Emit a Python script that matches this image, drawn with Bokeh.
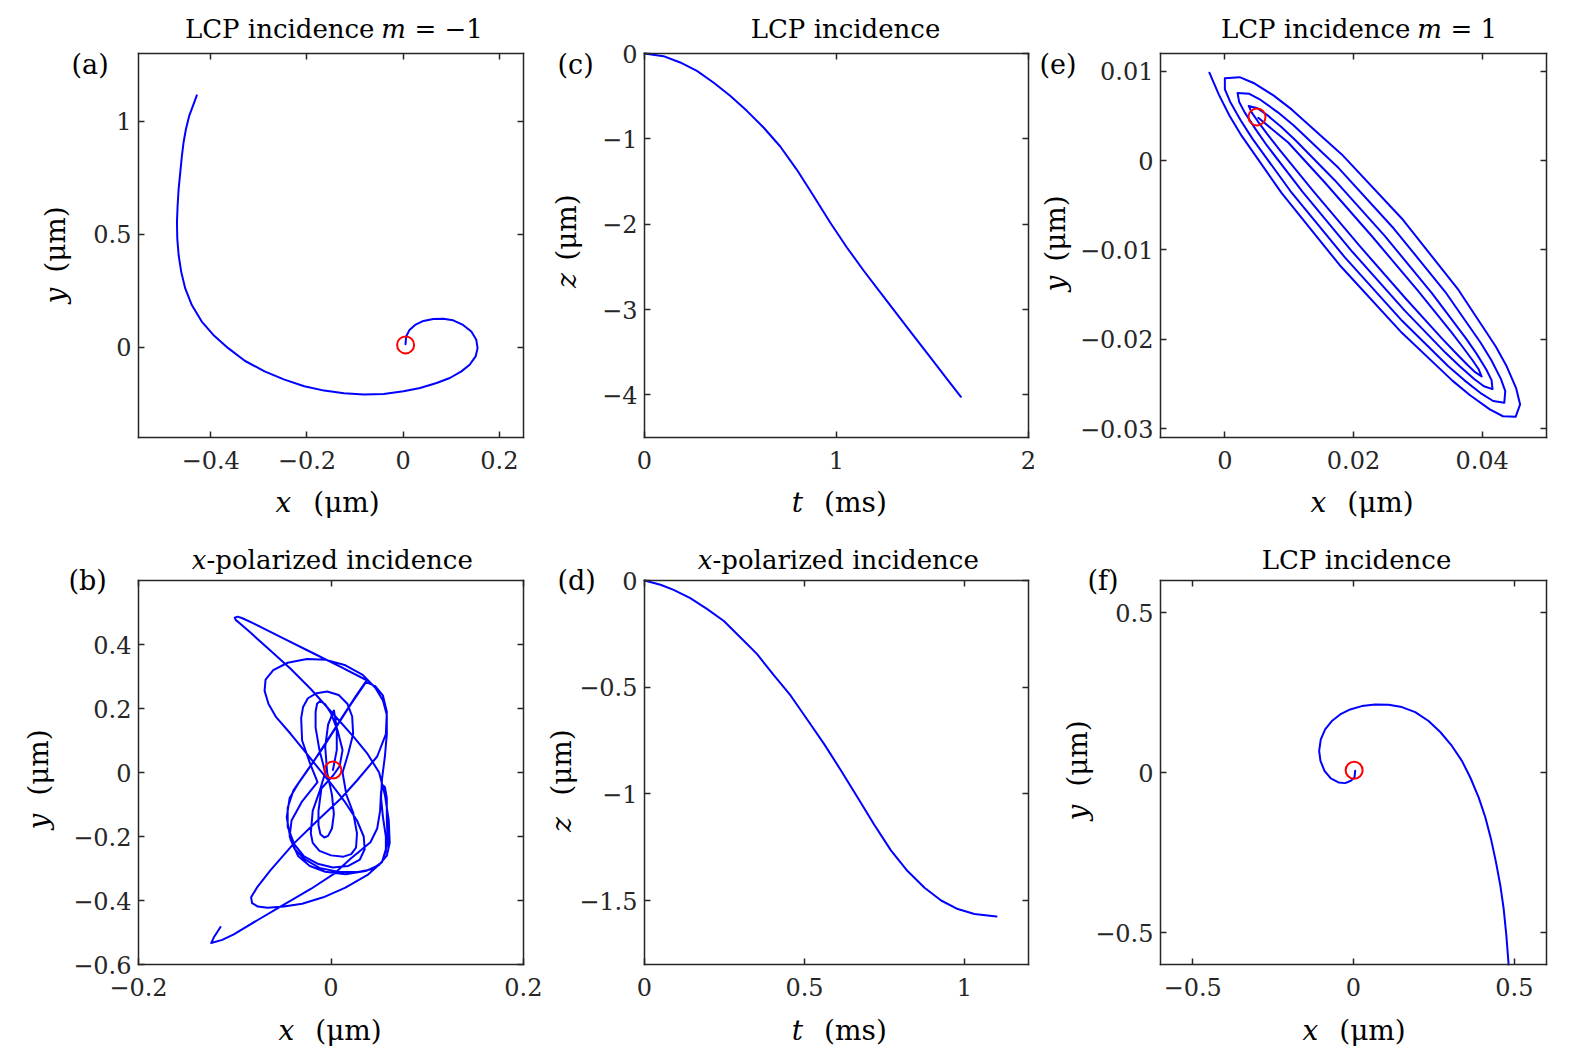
import math
from bokeh.plotting import figure
from bokeh.models import Range1d, FixedTicker, LinearAxis, Label, CustomJSTickFormatter
from bokeh.layouts import gridplot
from bokeh.embed import file_html
from bokeh.resources import INLINE

# ---------------- data ----------------
# (a) LCP incidence m=-1 : x-y trajectory (um)
a_x = [0.0048, 0.0062, 0.0131, 0.0247, 0.0419, 0.0625, 0.0832, 0.1038, 0.1244, 0.1416, 0.1519,
       0.1546, 0.1505, 0.1381, 0.1210, 0.0969, 0.0694, 0.0351, 0.0007, -0.0406, -0.0818, -0.1231,
       -0.1643, -0.2055, -0.2468, -0.2880, -0.3292, -0.3636, -0.3945, -0.4186, -0.4392, -0.4529,
       -0.4612, -0.4666, -0.4694, -0.4701, -0.4687, -0.4666, -0.4632, -0.4598, -0.4564, -0.4515,
       -0.4447, -0.4357, -0.4289]
a_y = [0.0132, 0.0470, 0.0763, 0.0984, 0.1160, 0.1248, 0.1262, 0.1189, 0.0984, 0.0690, 0.0323,
       -0.0044, -0.0411, -0.0778, -0.1072, -0.1366, -0.1586, -0.1806, -0.1953, -0.2070, -0.2100,
       -0.2041, -0.1924, -0.1733, -0.1439, -0.1072, -0.0602, -0.0044, 0.0543, 0.1131, 0.1865,
       0.2599, 0.3333, 0.4068, 0.4802, 0.5536, 0.6270, 0.7004, 0.7738, 0.8473, 0.9060, 0.9648,
       1.0235, 1.0749, 1.1145]
a_start = [0.005, 0.010]
a_xlim = [-0.55, 0.25]
a_ylim = [-0.4, 1.3]
a_xticks = [-0.4, -0.2, 0, 0.2]
a_yticks = [0, 0.5, 1]

# (c) LCP incidence : z(t)
c_t = [0, 0.099, 0.186, 0.273, 0.359, 0.446, 0.533, 0.62, 0.707, 0.793, 0.88, 0.967, 1.054,
       1.141, 1.227, 1.314, 1.401, 1.488, 1.575, 1.648]
c_z = [0, -0.031, -0.105, -0.203, -0.34, -0.496, -0.672, -0.867, -1.09, -1.36, -1.668, -1.98,
       -2.273, -2.543, -2.797, -3.051, -3.305, -3.559, -3.8125, -4.023]
c_xlim = [0, 2]
c_ylim = [-4.5, 0]
c_xticks = [0, 1, 2]
c_yticks = [-4, -3, -2, -1, 0]

# (e) LCP incidence m=1 : x-y trajectory (um)
e_x = [0.0052,
       0.00985, 0.01547, 0.02280, 0.02997, 0.03521, 0.03689, 0.03853, 0.03948, 0.03992,
       0.03896, 0.03773, 0.03579, 0.03388, 0.02828, 0.02095, 0.01378, 0.00852, 0.00681, 0.00515, 0.00419, 0.00371,
       0.00507, 0.00654, 0.00879, 0.01094, 0.01704, 0.02482, 0.03221, 0.03745, 0.03912, 0.04066, 0.04146, 0.04161,
       0.04027, 0.03876, 0.03647, 0.03427, 0.02793, 0.01985, 0.01209, 0.00651, 0.00477, 0.00311, 0.00223, 0.00198,
       0.00381, 0.00557, 0.00825, 0.01071, 0.01769, 0.02626, 0.03425, 0.03974, 0.04141, 0.04291, 0.04359, 0.04344,
       0.04171, 0.03994, 0.03725, 0.03473, 0.02759, 0.01866, 0.01019, 0.00431, 0.00250, 0.00082, 0.00001, 0.00000,
       0.00231, 0.00446, 0.00755, 0.01038, 0.01818, 0.02769, 0.03632, 0.04209, 0.04381, 0.04526, 0.04590, 0.04520,
       0.04323, 0.04119, 0.03817, 0.03537, 0.02752, 0.01780, 0.00881, 0.00262, 0.00075, -0.00093, -0.00240]
e_y = [0.0048,
       0.00203, -0.00239, -0.00841, -0.01453, -0.01919, -0.02078, -0.02238, -0.02339, -0.02417,
       -0.02371, -0.02288, -0.02146, -0.02001, -0.01557, -0.00955, -0.00344, 0.00121, 0.00278, 0.00438, 0.00538, 0.00613,
       0.00587, 0.00513, 0.00376, 0.00231, -0.00216, -0.00839, -0.01486, -0.01987, -0.02161, -0.02342, -0.02457, -0.02558,
       -0.02526, -0.02445, -0.02299, -0.02149, -0.01677, -0.01023, -0.00350, 0.00173, 0.00353, 0.00538, 0.00657, 0.00757,
       0.00749, 0.00680, 0.00541, 0.00393, -0.00083, -0.00760, -0.01468, -0.02036, -0.02233, -0.02444, -0.02580, -0.02710,
       -0.02691, -0.02612, -0.02460, -0.02302, -0.01796, -0.01083, -0.00340, 0.00244, 0.00447, 0.00661, 0.00798, 0.00924,
       0.00935, 0.00870, 0.00731, 0.00574, 0.00070, -0.00662, -0.01448, -0.02078, -0.02303, -0.02544, -0.02730, -0.02868,
       -0.02862, -0.02785, -0.02630, -0.02463, -0.01928, -0.01165, -0.00361, 0.00277, 0.00501, 0.00739, 0.00985]
e_start = [0.0050, 0.0049]
e_xlim = [-0.01, 0.05]
e_ylim = [-0.031, 0.012]
e_xticks = [0, 0.02, 0.04]
e_yticks = [-0.03, -0.02, -0.01, 0, 0.01]

# (b) x-polarized incidence : x-y trajectory (um)
b_pts = [
    (0.002, 0.008), (0.006, 0.07), (0.006, 0.14), (0.003, 0.194), (-0.003, 0.15), (-0.006, 0.08),
    (-0.004, 0.0), (0.001, -0.07), (0.003, -0.13), (0.001, -0.175), (-0.003, -0.198), (-0.007, -0.203),
    (-0.011, -0.193), (-0.013, -0.165), (-0.013, -0.12), (-0.010, -0.05), (0.002, -0.01), (0.009, 0.02),
    (0.012, 0.07), (0.007, 0.13), (0.0, 0.185), (-0.006, 0.213), (-0.011, 0.224), (-0.0145, 0.215),
    (-0.016, 0.19), (-0.016, 0.14), (-0.012, 0.07), (-0.006, 0.0), (-0.012, -0.06), (-0.019, -0.12),
    (-0.021, -0.19), (-0.019, -0.22), (-0.012, -0.245), (0.0, -0.259), (0.013, -0.263), (0.021, -0.255),
    (0.026, -0.235), (0.027, -0.19), (0.023, -0.125), (0.016, -0.07), (0.012, 0.0), (0.018, 0.06),
    (0.023, 0.12), (0.022, 0.175), (0.017, 0.215), (0.008, 0.242), (-0.004, 0.253), (-0.015, 0.248),
    (-0.024, 0.232), (-0.029, 0.205), (-0.031, 0.17), (-0.030, 0.10), (-0.022, 0.03), (-0.014, -0.03),
    (-0.030, -0.09), (-0.041, -0.15), (-0.043, -0.2), (-0.038, -0.238), (-0.028, -0.27), (-0.012, -0.298),
    (0.008, -0.311), (0.028, -0.311), (0.043, -0.302), (0.053, -0.28), (0.057, -0.245), (0.057, -0.2),
    (0.054, -0.14), (0.052, -0.08), (0.053, -0.02), (0.056, 0.05), (0.058, 0.12), (0.058, 0.18),
    (0.054, 0.225), (0.046, 0.265), (0.033, 0.305), (0.015, 0.335), (-0.005, 0.352), (-0.025, 0.355),
    (-0.045, 0.343), (-0.06, 0.32), (-0.068, 0.29), (-0.069, 0.255), (-0.065, 0.215), (-0.057, 0.173),
    (-0.042, 0.121), (-0.028, 0.069), (-0.014, 0.017), (0.0, -0.035), (0.014, -0.09), (0.027, -0.15),
    (0.034, -0.2), (0.035, -0.24), (0.030, -0.272), (0.018, -0.292), (0.002, -0.297), (-0.014, -0.285),
    (-0.028, -0.262), (-0.038, -0.225), (-0.045, -0.17), (-0.045, -0.11), (-0.039, -0.056), (-0.025, 0.005),
    (-0.010, 0.07), (0.005, 0.14), (0.020, 0.21), (0.0376, 0.2875), (0.010, 0.330), (-0.020, 0.375),
    (-0.050, 0.420), (-0.080, 0.465), (-0.092, 0.482), (-0.097, 0.487), (-0.100, 0.484), (-0.099, 0.477),
    (-0.093, 0.462), (-0.084, 0.438), (-0.063, 0.381), (-0.042, 0.324), (-0.021, 0.261), (-0.004, 0.204),
    (0.010, 0.157), (0.024, 0.110), (0.038, 0.058), (0.050, 0.0), (0.056, -0.07), (0.060, -0.15),
    (0.061, -0.22), (0.058, -0.26), (0.050, -0.289), (0.036, -0.308), (0.015, -0.318), (-0.006, -0.31),
    (-0.022, -0.292), (-0.034, -0.262), (-0.042, -0.21), (-0.046, -0.14), (-0.043, -0.08), (-0.033, -0.03),
    (-0.019, 0.03), (-0.004, 0.10), (0.011, 0.17), (0.026, 0.24), (0.036, 0.283), (0.046, 0.27),
    (0.054, 0.24), (0.058, 0.19), (0.057, 0.12), (0.048, 0.05), (0.027, -0.025), (0.010, -0.082),
    (-0.014, -0.15), (-0.039, -0.223), (-0.063, -0.306), (-0.077, -0.36), (-0.083, -0.39), (-0.082, -0.408),
    (-0.076, -0.419), (-0.066, -0.423), (-0.049, -0.419), (-0.030, -0.41), (-0.008, -0.39), (0.015, -0.36),
    (0.038, -0.32), (0.053, -0.28), (0.059, -0.22), (0.058, -0.15), (0.058, -0.08), (0.056, -0.045),
    (0.054, -0.04), (0.052, -0.06), (0.051, -0.12), (0.048, -0.175), (0.041, -0.218), (0.020, -0.27),
    (0.003, -0.317), (-0.021, -0.364), (-0.0525, -0.419), (-0.077, -0.4625), (-0.101, -0.506),
    (-0.113, -0.523), (-0.1245, -0.533), (-0.1217, -0.515), (-0.1183, -0.499), (-0.1148, -0.483)]
b_x = [pt[0] for pt in b_pts]
b_y = [pt[1] for pt in b_pts]
b_start = [0.002, 0.008]
b_xlim = [-0.2, 0.2]
b_ylim = [-0.6, 0.6]
b_xticks = [-0.2, 0, 0.2]
b_yticks = [-0.6, -0.4, -0.2, 0, 0.2, 0.4]

# (d) x-polarized incidence : z(t)
d_t = [0, 0.05, 0.091, 0.143, 0.195, 0.248, 0.3, 0.352, 0.404, 0.457, 0.509, 0.561, 0.613,
       0.666, 0.718, 0.770, 0.822, 0.875, 0.927, 0.979, 1.031, 1.10]
d_z = [0, -0.02, -0.044, -0.083, -0.133, -0.19, -0.267, -0.345, -0.444, -0.54, -0.653, -0.766,
       -0.888, -1.017, -1.145, -1.265, -1.362, -1.44, -1.5, -1.54, -1.563, -1.575]
d_xlim = [0, 1.2]
d_ylim = [-1.8, 0]
d_xticks = [0, 0.5, 1]
d_yticks = [-1.5, -1, -0.5, 0]

# (f) LCP incidence : x-y trajectory (um)
f_x = [0.0052, 0.0031, -0.0083, -0.0259, -0.0467, -0.0705, -0.0902, -0.1027, -0.1068, -0.1017,
       -0.0882, -0.0674, -0.0415, -0.0104, 0.0259, 0.0674, 0.1089, 0.1504, 0.1919, 0.2334,
       0.2697, 0.3060, 0.3371, 0.3631, 0.3890, 0.4098, 0.4274, 0.4429, 0.4564, 0.4668, 0.4751,
       0.4822]
f_y = [0.0052, -0.0156, -0.0259, -0.0332, -0.0311, -0.0187, 0.0052, 0.0363, 0.0674, 0.1037,
       0.1349, 0.1608, 0.1815, 0.1971, 0.2075, 0.2127, 0.2116, 0.2044, 0.1888, 0.1608,
       0.1266, 0.0830, 0.0363, -0.0156, -0.0778, -0.1400, -0.2075, -0.2801, -0.3527, -0.4253,
       -0.5083, -0.6000]
f_start = [0.002, 0.007]
f_xlim = [-0.6, 0.6]
f_ylim = [-0.6, 0.6]
f_xticks = [-0.5, 0, 0.5]
f_yticks = [-0.5, 0, 0.5]

# ---------------- styling / layout ----------------
FONT = "DejaVu Serif"
AXC = "#262626"
TICK_JS = "var v = Math.round(tick*1e6)/1e6; return v.toString().replace('-', '\\u2212');"

# grid cells: (left, width) / (top, height) in page px; each figure's frame fills its cell
COLS = {1: (0, 542), 2: (542, 494), 3: (1036, 532)}
ROWS = {1: (0, 530), 2: (530, 520)}
# axes box of every panel in page px: (left, right) / (top, bottom)
BOX_X = {1: (138, 523), 2: (644, 1028), 3: (1160, 1546)}
BOX_Y = {1: (53, 437), 2: (580, 964)}


def style_axis(ax, ticks, show, standoff):
    ax.ticker = FixedTicker(ticks=ticks)
    ax.axis_line_color = AXC
    ax.axis_line_width = 1.5
    ax.axis_line_cap = "square"
    ax.major_tick_line_color = AXC
    ax.major_tick_line_width = 1.5
    ax.major_tick_in = 6
    ax.major_tick_out = 0
    ax.minor_tick_in = 0
    ax.minor_tick_out = 0
    ax.minor_tick_line_color = None
    if show:
        ax.formatter = CustomJSTickFormatter(code=TICK_JS)
        ax.major_label_text_font = FONT
        ax.major_label_text_font_size = "24px"
        ax.major_label_text_color = AXC
        ax.major_label_standoff = standoff
    else:
        ax.formatter = CustomJSTickFormatter(code="return '';")
        ax.major_label_text_font_size = "1px"
        ax.major_label_standoff = 0


def make(col, row, xlim, ylim, xt, yt):
    cx, W = COLS[col]
    cy, H = ROWS[row]
    bl, br = BOX_X[col][0] - cx, BOX_X[col][1] - cx
    bt, bb = BOX_Y[row][0] - cy, BOX_Y[row][1] - cy
    X0, X1 = xlim
    Y0, Y1 = ylim
    kx = (X1 - X0) / (br - bl)
    ky = (Y1 - Y0) / (bb - bt)
    xs, xe = X0 - bl * kx, X1 + (W - br) * kx
    ys, ye = Y0 - (H - bb) * ky, Y1 + bt * ky
    p = figure(width=W, height=H, x_range=Range1d(xs, xe), y_range=Range1d(ys, ye),
               output_backend="svg", toolbar_location=None, tools="",
               x_axis_location=None, y_axis_location=None, title_location=None,
               min_border=0, min_border_left=0, min_border_right=0,
               min_border_top=0, min_border_bottom=0)
    p.xgrid.visible = False
    p.ygrid.visible = False
    p.outline_line_color = None
    p.background_fill_color = "white"
    p.border_fill_color = "white"
    ax_b = LinearAxis(fixed_location=Y0, bounds=(X0, X1))
    style_axis(ax_b, xt, True, 13)
    p.add_layout(ax_b, "below")
    ax_l = LinearAxis(fixed_location=X0, bounds=(Y0, Y1))
    style_axis(ax_l, yt, True, 7)
    p.add_layout(ax_l, "left")
    ax_t = LinearAxis(fixed_location=Y1, bounds=(X0, X1))
    style_axis(ax_t, xt, False, 0)
    p.add_layout(ax_t, "above")
    ax_r = LinearAxis(fixed_location=X1, bounds=(Y0, Y1))
    style_axis(ax_r, yt, False, 0)
    p.add_layout(ax_r, "right")
    g = dict(cx=cx, cy=cy, xs=xs, ye=ye, kx=kx, ky=ky)
    return p, g


def txt(p, g, px, py, text, size, style="normal", align="left",
        baseline="alphabetic", angle=0.0, color="black"):
    # page pixel position -> data coordinates of this panel
    x = g["xs"] + (px - g["cx"]) * g["kx"]
    y = g["ye"] - (py - g["cy"]) * g["ky"]
    p.add_layout(Label(x=x, y=y, text=text, text_font=FONT, text_font_size=size,
                       text_font_style=style, text_align=align, text_baseline=baseline,
                       angle=angle, text_color=color))


def curve(p, xs, ys):
    p.line(xs, ys, line_color="#0000FF", line_width=2, line_join="round", line_cap="round")


def marker(p, pt):
    p.scatter([pt[0]], [pt[1]], marker="circle", size=17, fill_color=None,
              line_color="#FF0000", line_width=2)


TS = "26px"   # titles
LS = "28px"   # axis labels
PS = "27px"   # panel letters
VANG = math.pi / 2
T1, T2 = 28, 559        # title baselines (rows 1, 2)
P1, P2 = 64, 580        # panel-letter baselines
X1B, X2B = 502, 1030    # x-label baselines

# ---- (a)
pa, ga = make(1, 1, a_xlim, a_ylim, a_xticks, a_yticks)
curve(pa, a_x, a_y)
marker(pa, a_start)
txt(pa, ga, 374, T1, "LCP incidence", TS, align="right")
txt(pa, ga, 393, T1, "m", TS, style="italic", align="center")
txt(pa, ga, 414, T1, "= \u22121", TS)
txt(pa, ga, 71, P1, "(a)", PS)
txt(pa, ga, 283, X1B, "x", LS, style="italic", align="center")
txt(pa, ga, 346, X1B, "(\u03bcm)", LS, align="center")
txt(pa, ga, 55, 295, "y", LS, style="italic", align="center", baseline="middle", angle=VANG)
txt(pa, ga, 55, 239, "(\u03bcm)", LS, align="center", baseline="middle", angle=VANG)

# ---- (c)
pc, gc = make(2, 1, c_xlim, c_ylim, c_xticks, c_yticks)
curve(pc, c_t, c_z)
txt(pc, gc, 845, T1, "LCP incidence", TS, align="center")
txt(pc, gc, 557, P1, "(c)", PS)
txt(pc, gc, 797, X1B, "t", LS, style="italic", align="center")
txt(pc, gc, 855, X1B, "(ms)", LS, align="center")
txt(pc, gc, 566, 280, "z", LS, style="italic", align="center", baseline="middle", angle=VANG)
txt(pc, gc, 566, 227, "(\u03bcm)", LS, align="center", baseline="middle", angle=VANG)

# ---- (e)
pe, ge = make(3, 1, e_xlim, e_ylim, e_xticks, e_yticks)
curve(pe, e_x, e_y)
marker(pe, e_start)
txt(pe, ge, 1410, T1, "LCP incidence", TS, align="right")
txt(pe, ge, 1429, T1, "m", TS, style="italic", align="center")
txt(pe, ge, 1450, T1, "= 1", TS)
txt(pe, ge, 1039, P1, "(e)", PS)
txt(pe, ge, 1318, X1B, "x", LS, style="italic", align="center")
txt(pe, ge, 1380, X1B, "(\u03bcm)", LS, align="center")
txt(pe, ge, 1055, 283, "y", LS, style="italic", align="center", baseline="middle", angle=VANG)
txt(pe, ge, 1055, 228, "(\u03bcm)", LS, align="center", baseline="middle", angle=VANG)

# ---- (b)
pb, gb = make(1, 2, b_xlim, b_ylim, b_xticks, b_yticks)
curve(pb, b_x, b_y)
marker(pb, b_start)
txt(pb, gb, 206, T2, "x", TS, style="italic", align="right")
txt(pb, gb, 206, T2, "-polarized incidence", TS)
txt(pb, gb, 68, P2, "(b)", PS)
txt(pb, gb, 286, X2B, "x", LS, style="italic", align="center")
txt(pb, gb, 348, X2B, "(\u03bcm)", LS, align="center")
txt(pb, gb, 38, 821, "y", LS, style="italic", align="center", baseline="middle", angle=VANG)
txt(pb, gb, 38, 762, "(\u03bcm)", LS, align="center", baseline="middle", angle=VANG)

# ---- (d)
pd, gd = make(2, 2, d_xlim, d_ylim, d_xticks, d_yticks)
curve(pd, d_t, d_z)
txt(pd, gd, 712, T2, "x", TS, style="italic", align="right")
txt(pd, gd, 712, T2, "-polarized incidence", TS)
txt(pd, gd, 557, P2, "(d)", PS)
txt(pd, gd, 797, X2B, "t", LS, style="italic", align="center")
txt(pd, gd, 855, X2B, "(ms)", LS, align="center")
txt(pd, gd, 561, 824, "z", LS, style="italic", align="center", baseline="middle", angle=VANG)
txt(pd, gd, 561, 762, "(\u03bcm)", LS, align="center", baseline="middle", angle=VANG)

# ---- (f)
pf, gf = make(3, 2, f_xlim, f_ylim, f_xticks, f_yticks)
curve(pf, f_x, f_y)
marker(pf, f_start)
txt(pf, gf, 1356, T2, "LCP incidence", TS, align="center")
txt(pf, gf, 1087, P2, "(f)", PS)
txt(pf, gf, 1310, X2B, "x", LS, style="italic", align="center")
txt(pf, gf, 1372, X2B, "(\u03bcm)", LS, align="center")
txt(pf, gf, 1077, 812, "y", LS, style="italic", align="center", baseline="middle", angle=VANG)
txt(pf, gf, 1077, 753, "(\u03bcm)", LS, align="center", baseline="middle", angle=VANG)

grid = gridplot([[pa, pc, pe], [pb, pd, pf]], toolbar_location=None)

with open("out.html", "w", encoding="utf-8") as fh:
    fh.write(file_html(grid, INLINE))
